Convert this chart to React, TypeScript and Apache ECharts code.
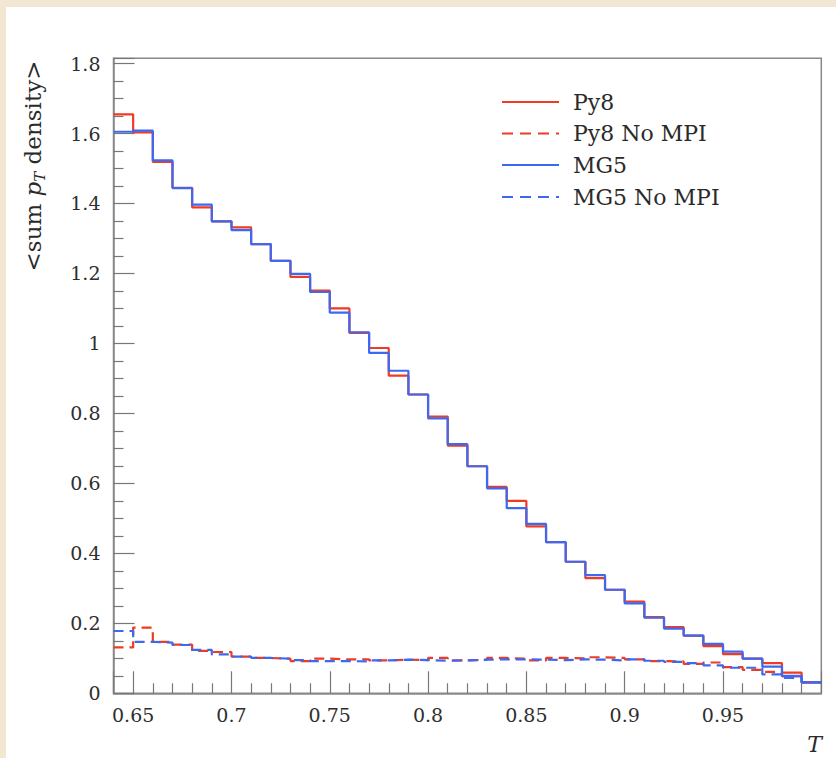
import React, { useEffect, useRef } from "react";
import * as echarts from "echarts";

// Bin edges of the thrust T histogram
const binEdges = [
  0.64, 0.65, 0.66, 0.67, 0.68, 0.69, 0.7, 0.71, 0.72, 0.73, 0.74, 0.75, 0.76,
  0.77, 0.78, 0.79, 0.8, 0.81, 0.82, 0.83, 0.84, 0.85, 0.86, 0.87, 0.88, 0.89,
  0.9, 0.91, 0.92, 0.93, 0.94, 0.95, 0.96, 0.97, 0.98, 0.99, 1.0,
];

const py8 = [
  1.655, 1.603, 1.519, 1.445, 1.389, 1.349, 1.332, 1.284, 1.236, 1.19, 1.151,
  1.1, 1.03, 0.987, 0.908, 0.854, 0.791, 0.708, 0.649, 0.59, 0.55, 0.477,
  0.432, 0.376, 0.329, 0.296, 0.262, 0.218, 0.189, 0.165, 0.135, 0.112, 0.099,
  0.086, 0.059, 0.031,
];

const py8NoMPI = [
  0.131, 0.188, 0.147, 0.139, 0.121, 0.118, 0.105, 0.101, 0.099, 0.092, 0.099,
  0.097, 0.097, 0.094, 0.096, 0.095, 0.101, 0.094, 0.096, 0.101, 0.099, 0.094,
  0.101, 0.1, 0.103, 0.101, 0.097, 0.092, 0.091, 0.084, 0.088, 0.075, 0.067,
  0.061, 0.048, 0.031,
];

const mg5 = [
  1.605, 1.608, 1.523, 1.444, 1.397, 1.349, 1.324, 1.284, 1.236, 1.199, 1.147,
  1.088, 1.032, 0.973, 0.922, 0.854, 0.786, 0.712, 0.649, 0.586, 0.529, 0.484,
  0.432, 0.376, 0.338, 0.296, 0.257, 0.216, 0.185, 0.165, 0.141, 0.119, 0.099,
  0.076, 0.05, 0.031,
];

const mg5NoMPI = [
  0.178, 0.147, 0.145, 0.138, 0.124, 0.111, 0.105, 0.101, 0.099, 0.095, 0.092,
  0.092, 0.091, 0.094, 0.096, 0.095, 0.093, 0.094, 0.096, 0.097, 0.097, 0.096,
  0.095, 0.097, 0.096, 0.094, 0.097, 0.093, 0.09, 0.086, 0.08, 0.073, 0.073,
  0.054, 0.044, 0.031,
];

const seriesNames = ["Py8", "Py8 No MPI", "MG5", "MG5 No MPI"];

const RED = "#ee3b22";
const BLUE = "#3d68f2";
const FONT = "DejaVu Serif";

function stepData(vals: number[]) {
  return binEdges.map((e, i) => [e, vals[Math.min(i, vals.length - 1)]]);
}

export default function App() {
  const ref = useRef<HTMLDivElement>(null);

  useEffect(() => {
    if (!ref.current) return;
    const chart = echarts.init(ref.current, undefined, { renderer: "svg" });

    const styles = [
      { color: RED, type: "solid" as const, vals: py8 },
      { color: RED, type: [10, 6], vals: py8NoMPI },
      { color: BLUE, type: "solid" as const, vals: mg5 },
      { color: BLUE, type: [10, 6], vals: mg5NoMPI },
    ];

    const legendRowsY = [95, 126.5, 158, 190];
    const legendGraphics: any[] = [];
    styles.forEach((s, i) => {
      legendGraphics.push({
        type: "line",
        shape: { x1: 496, y1: legendRowsY[i], x2: 553, y2: legendRowsY[i] },
        style: { stroke: s.color, lineWidth: 2, lineDash: s.type === "solid" ? null : [11, 7] },
      });
      legendGraphics.push({
        type: "text",
        x: 567,
        y: legendRowsY[i],
        style: {
          text: seriesNames[i],
          font: `22px "${FONT}"`,
          fill: "#2a2a2a",
          textAlign: "left",
          textVerticalAlign: "middle",
        },
      });
    });

    const option: any = {
      animation: false,
      backgroundColor: "#ffffff",
      grid: {
        left: 107.5,
        top: 51.3,
        right: 14.7,
        bottom: 64.7,
        show: true,
        borderColor: "#888888",
        borderWidth: 1.5,
        backgroundColor: "transparent",
      },
      xAxis: {
        type: "value",
        min: 0.64,
        max: 1.0,
        splitNumber: 7,
        axisLine: { show: true, lineStyle: { color: "#888888", width: 1.5 } },
        axisTick: { show: true, inside: true, length: 22, lineStyle: { color: "#777777", width: 1.2 } },
        minorTick: { show: true, splitNumber: 5, length: 10, lineStyle: { color: "#777777", width: 1.2 } },
        splitLine: { show: false },
        axisLabel: {
          showMinLabel: false,
          showMaxLabel: false,
          margin: 12,
          color: "#2e2e2e",
          fontFamily: FONT,
          fontSize: 19,
        },
      },
      yAxis: {
        type: "value",
        min: 0,
        max: 1.815,
        interval: 0.2,
        axisLine: { show: true, lineStyle: { color: "#888888", width: 1.5 } },
        axisTick: { show: true, inside: true, length: 21, lineStyle: { color: "#777777", width: 1.2 } },
        minorTick: { show: true, splitNumber: 4, length: 10, lineStyle: { color: "#777777", width: 1.2 } },
        splitLine: { show: false },
        axisLabel: {
          showMaxLabel: false,
          margin: 13,
          color: "#2e2e2e",
          fontFamily: FONT,
          fontSize: 19,
        },
      },
      series: styles.map((s, i) => ({
        name: seriesNames[i],
        type: "line",
        step: "end",
        symbol: "none",
        data: stepData(s.vals),
        lineStyle: { color: s.color, width: 2.2, type: s.type },
        itemStyle: { color: s.color },
        z: 2 + i,
      })),
      graphic: [
        {
          type: "text",
          x: 27,
          y: 159,
          rotation: Math.PI / 2,
          style: {
            text: "{n|<sum }{p|p}{s|T}{n| density>}",
            textAlign: "center",
            textVerticalAlign: "middle",
            fill: "#2a2a2a",
            rich: {
              n: { fontFamily: FONT, fontSize: 23, lineHeight: 28, fill: "#2a2a2a" },
              p: { fontFamily: FONT, fontSize: 23, fontStyle: "italic", lineHeight: 28, fill: "#2a2a2a" },
              s: { fontFamily: FONT, fontSize: 15, fontStyle: "italic", lineHeight: 15, verticalAlign: "bottom", fill: "#2a2a2a" },
            },
          },
        },
        {
          type: "text",
          x: 816,
          y: 737,
          style: {
            text: "T",
            font: `italic 22px "${FONT}"`,
            fill: "#2a2a2a",
            textAlign: "right",
            textVerticalAlign: "middle",
          },
        },
        ...legendGraphics,
      ],
    };

    chart.setOption(option);
    return () => chart.dispose();
  }, []);

  return (
    <div
      style={{
        position: "fixed",
        left: 0,
        top: 0,
        width: 836,
        height: 758,
        background: "#f2e7d2",
      }}
    >
      <div
        ref={ref}
        style={{ position: "absolute", left: 6, top: 7, width: 830, height: 751, background: "#ffffff" }}
      />
    </div>
  );
}
